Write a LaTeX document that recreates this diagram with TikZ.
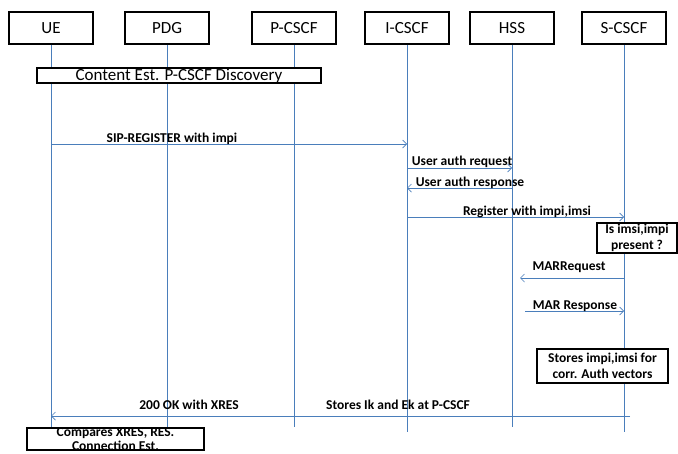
\documentclass[tikz,border=0pt]{standalone}
\usepackage{fontspec}
\setmainfont{Carlito}
\usetikzlibrary{arrows.meta}
\definecolor{lineblue}{RGB}{74,126,187}

\begin{document}
\begin{tikzpicture}[x=1pt, y=-1pt,
    actor/.style={draw, line width=1.5pt, minimum width=84pt, minimum height=32pt, font=\fontsize{17}{19}\selectfont},
    notebox/.style={draw, line width=1.5pt, fill=white, align=center, inner xsep=2pt, inner ysep=1pt, font=\bfseries\fontsize{13.5}{16}\selectfont},
    life/.style={lineblue, line width=0.7pt},
    msg/.style={lineblue, line width=0.7pt, -{Straight Barb[length=4pt,width=8pt]}},
    lbl/.style={font=\bfseries\fontsize{13.5}{16}\selectfont, inner sep=0pt}]
                \useasboundingbox (0,0) rectangle (678,453);
                \clip (0,0) rectangle (678,453);

                % 实体
                \foreach \n/\x/\t in {ue/51/UE, pdg/167/PDG, pcscf/294/P-CSCF, icscf/407/I-CSCF, hss/512/HSS, scscf/624/S-CSCF}
                    \node[actor] (\n) at (\x,28) {\t};

                % 生命线
                \foreach \n/\e in {ue/428, pdg/427, pcscf/427, icscf/432, hss/427, scscf/432}
                    \draw[life] (\n.south) -- (\n |- 0,\e);

                % 发现过程
                \node[draw, line width=1.5pt, fill=white, minimum width=284pt, minimum height=15pt, inner sep=0pt,
                      text height=10.5pt, text depth=1.5pt,
                      font=\fontsize{17}{18}\selectfont] (disc) at (179,75.5) {Content Est. P-CSCF Discovery};

                % 端点
                \coordinate (marq) at (520,278);
                \coordinate (marr) at (525,311);
                \coordinate (okst) at (630,416);

                % 消息
                \draw[msg] (ue |- 0,144) -- (icscf |- 0,144);
                \draw[msg] (icscf |- 0,168) -- (hss |- 0,168);
                \draw[msg] (hss |- 0,188) -- (icscf |- 0,188);
                \draw[msg] (icscf |- 0,217) -- (scscf |- 0,217);
                \draw[msg] (scscf |- marq) -- (marq);
                \draw[msg] (marr) -- (scscf |- marr);
                \draw[msg] (okst) -- (ue |- okst);

                % 标签
                \node[lbl] at (172,139) {SIP-REGISTER with impi};
                \node[lbl] at (462,162) {User auth request};
                \node[lbl] at (470,183) {User auth response};
                \node[lbl] at (527,212) {Register with impi,imsi};
                \node[lbl] at (569,267) {MARRequest};
                \node[lbl] at (575,306) {MAR Response};
                \node[lbl] at (189,405) {200 OK with XRES};
                \node[lbl] at (398,405) {Stores Ik and Ek at P-CSCF};

                % 注释框
                \node[notebox, minimum width=80pt, minimum height=30pt] (check) at (637,238) {Is imsi,impi\\present ?};
                \node[notebox, minimum width=131pt, minimum height=34pt] (store) at (602.5,366) {Stores impi,imsi for\\corr. Auth vectors};
                \node[notebox, minimum width=177pt, inner ysep=0pt, anchor=north, font=\bfseries\fontsize{13.5}{13.5}\selectfont] (comp) at (115.5,427) {Compares XRES, RES.\\Connection Est.};
            \end{tikzpicture}
\end{document}
